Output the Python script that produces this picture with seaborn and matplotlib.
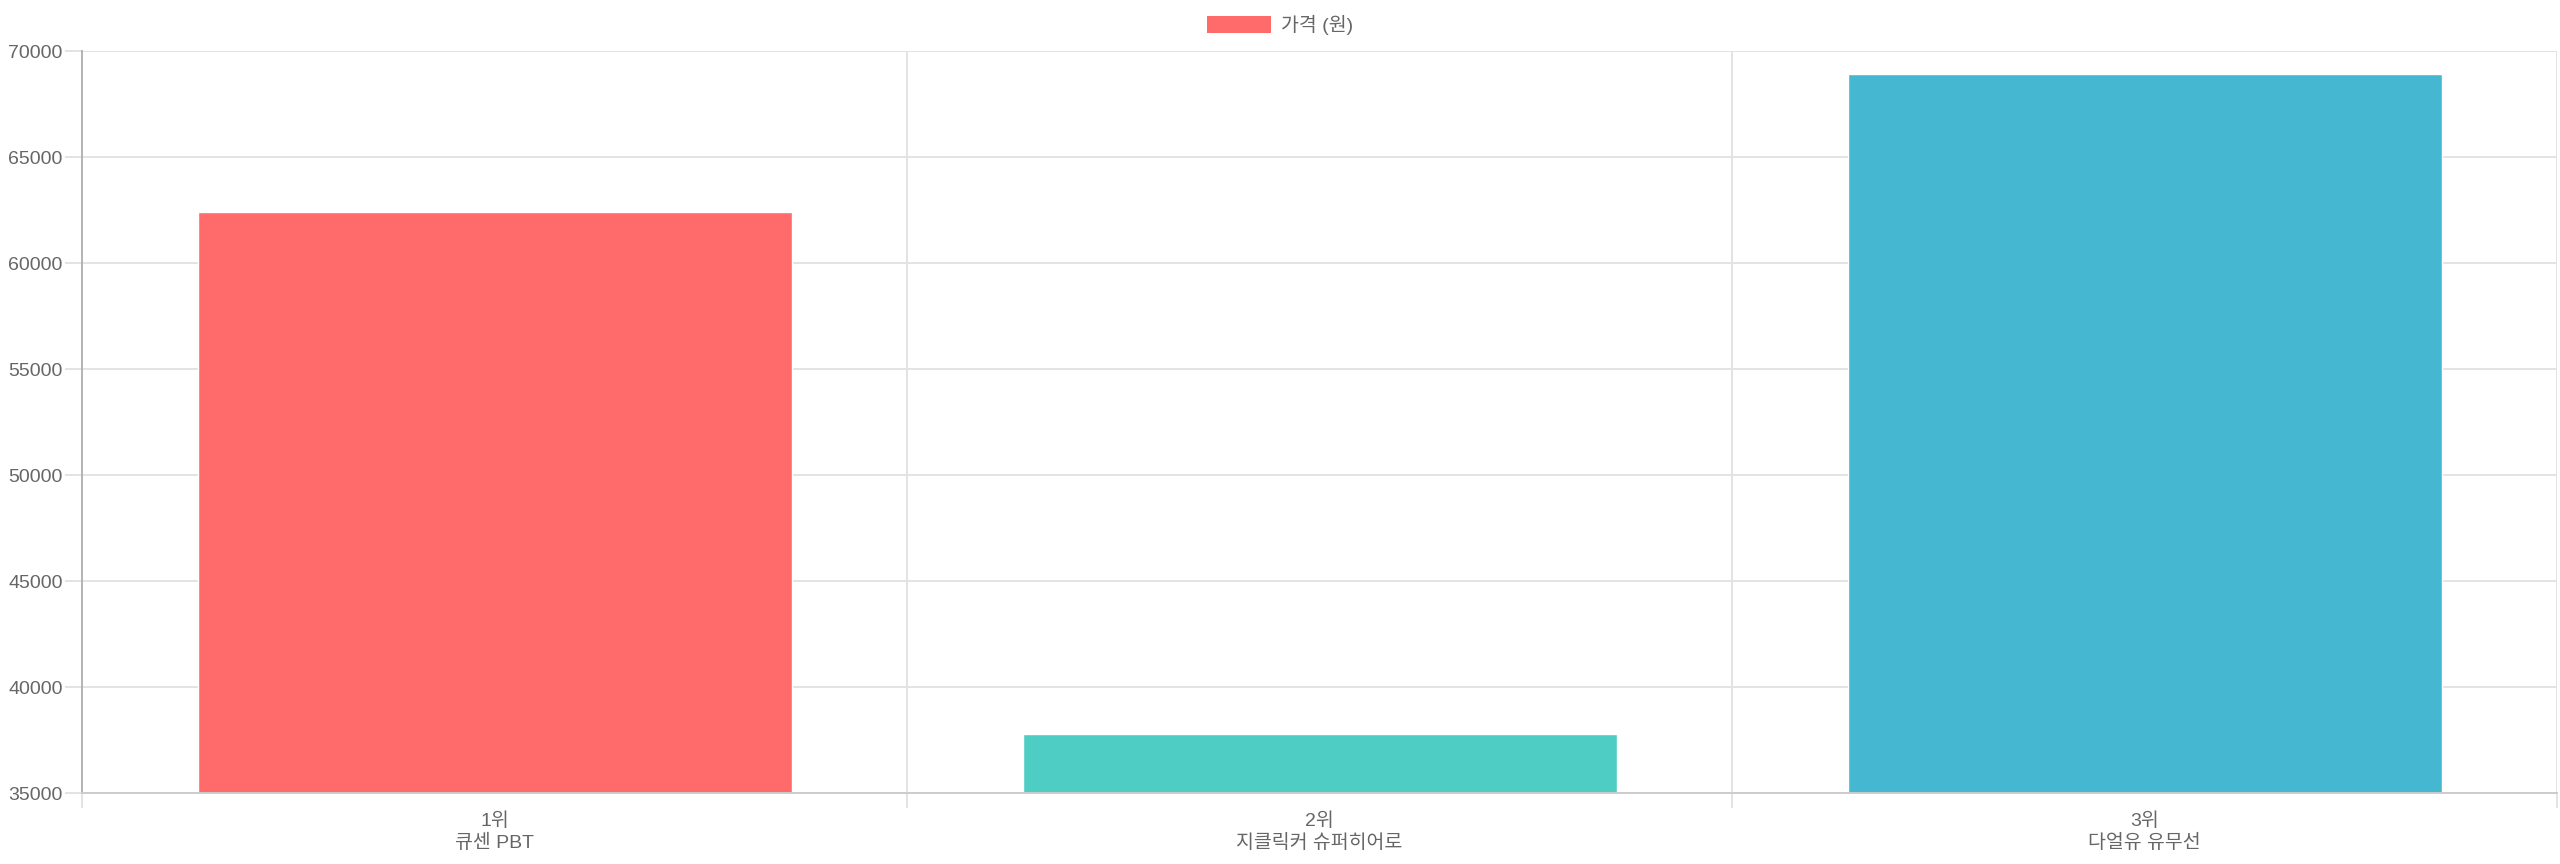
import matplotlib
matplotlib.use("Agg")
import matplotlib.pyplot as plt
import seaborn as sns
import pandas as pd
from matplotlib.patches import Patch

ranks = ["1위", "2위", "3위"]
products = ["큐센 PBT", "지클릭커 슈퍼히어로", "다얼유 유무선"]
prices = [62400, 37800, 68900]
bar_colors = ["#FF6B6B", "#4ECDC4", "#45B7D1"]
y_ticks = [35000, 40000, 45000, 50000, 55000, 60000, 65000, 70000]
legend_label = "가격 (원)"

sns.set_theme(style="white")
plt.rcParams["font.family"] = ["Liberation Sans", "Noto Sans CJK KR", "DejaVu Sans"]

labels = [f"{r}\n{p}" for r, p in zip(ranks, products)]
df = pd.DataFrame({"label": labels, "price": prices})

fig = plt.figure(figsize=(25.6, 8.64), dpi=100)
ax = fig.add_axes([82 / 2560, 1 - 793 / 864, (2557 - 82) / 2560, (793 - 51) / 864])

sns.barplot(data=df, x="label", y="price", hue="label", palette=bar_colors,
            width=0.72, saturation=1, legend=False, ax=ax)

ax.set_ylim(y_ticks[0], y_ticks[-1])
ax.set_xlim(-0.5, len(labels) - 0.5)
ax.set_yticks(y_ticks)
ax.set_yticklabels([str(v) for v in y_ticks])
ax.set_xlabel("")
ax.set_ylabel("")

grid_c = "#e3e3e3"
ax.set_axisbelow(True)
ax.yaxis.grid(True, color=grid_c, linewidth=1.4)
ax.set_xticks([i + 0.5 for i in range(-1, len(labels))], minor=True)
ax.xaxis.grid(True, which="minor", color=grid_c, linewidth=1.4)
ax.xaxis.grid(False, which="major")

ax.tick_params(axis="y", length=12, width=1.4, color=grid_c, pad=2,
               labelsize=14, labelcolor="#666666", left=True)
ax.tick_params(axis="x", which="major", length=0, pad=14,
               labelsize=14, labelcolor="#666666")
ax.tick_params(axis="x", which="minor", length=11, width=1.4, color=grid_c, bottom=True)
for t in ax.get_xticklabels():
    t.set_linespacing(1.25)

for side in ["top", "right"]:
    ax.spines[side].set_visible(False)
ax.spines["left"].set_color("#b3b3b3")
ax.spines["left"].set_linewidth(1.4)
ax.spines["bottom"].set_color("#cccccc")
ax.spines["bottom"].set_linewidth(1.4)

fig.legend(handles=[Patch(facecolor=bar_colors[0], edgecolor="none", label=legend_label)],
           loc="center", bbox_to_anchor=(1280 / 2560, 1 - 25 / 864), frameon=False,
           fontsize=14, labelcolor="#666666", handlelength=3.3, handleheight=0.93,
           handletextpad=0.5)

fig.savefig("out.png", dpi=100)
